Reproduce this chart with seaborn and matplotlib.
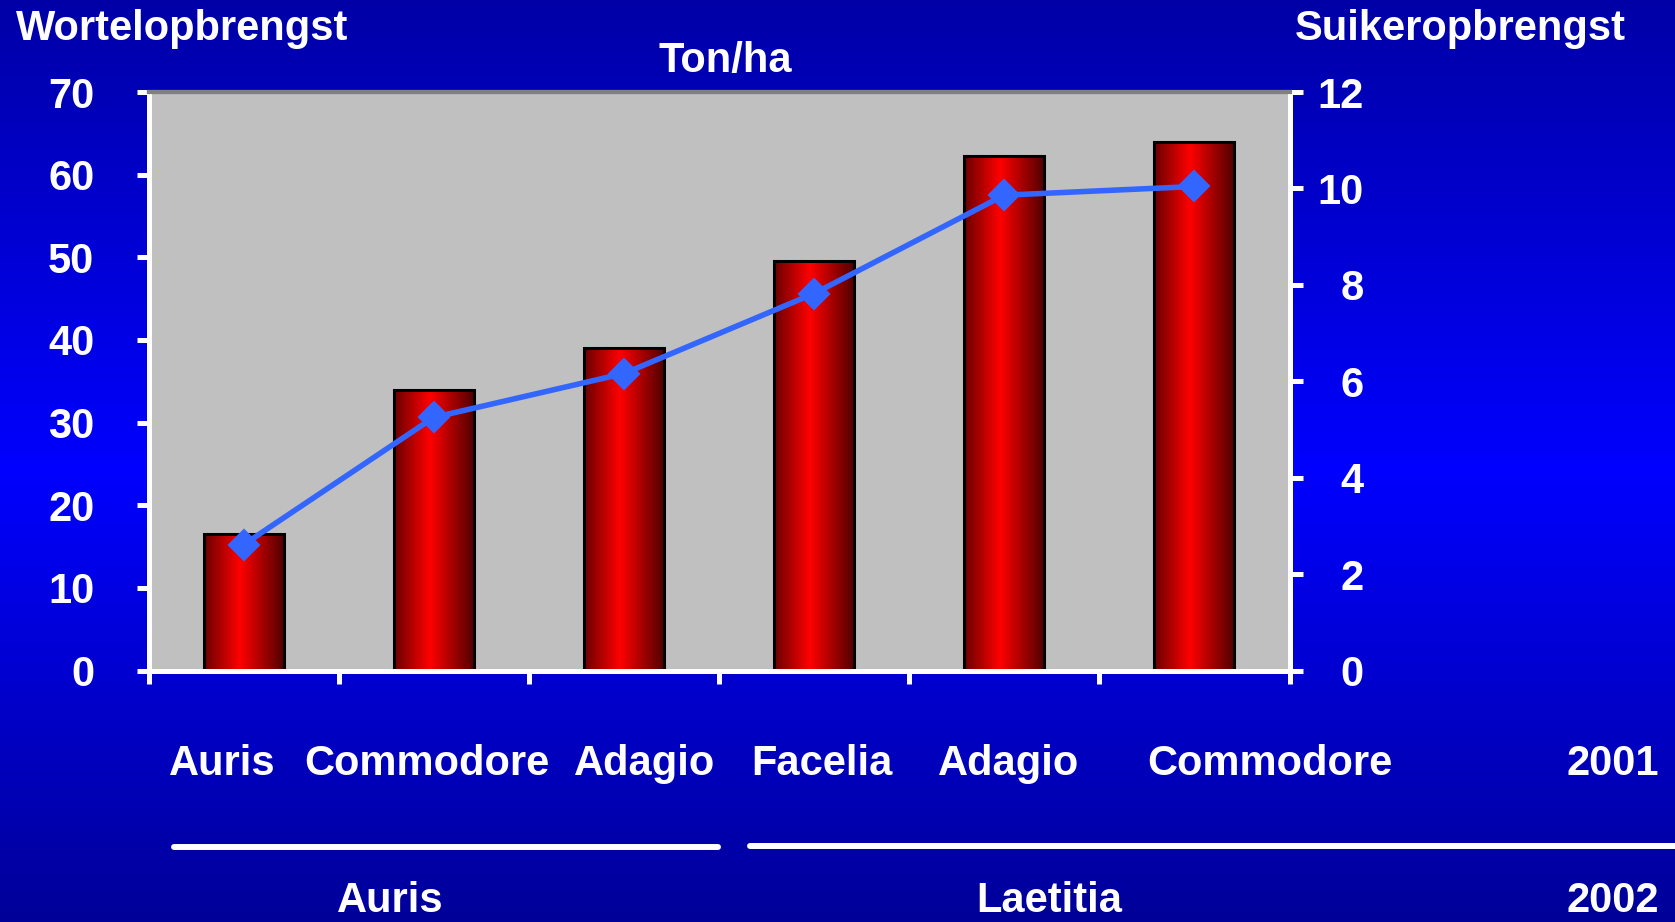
import numpy as np
import pandas as pd
import matplotlib
matplotlib.use("Agg")
import matplotlib.pyplot as plt
import seaborn as sns
from matplotlib.colors import LinearSegmentedColormap
from matplotlib.patches import Rectangle
from matplotlib.lines import Line2D

# data
rassen = ["Auris", "Commodore", "Adagio", "Facelia", "Adagio", "Commodore"]
wortelopbrengst = [16.5, 34.0, 39.0, 49.5, 62.2, 63.9]
suikeropbrengst = [2.61, 5.25, 6.16, 7.82, 9.86, 10.04]
links_ticks = [0, 10, 20, 30, 40, 50, 60, 70]
rechts_ticks = [0, 2, 4, 6, 8, 10, 12]
groepen = ["Auris", "Laetitia"]
jaren = ["2001", "2002"]

df = pd.DataFrame({"pos": range(len(rassen)), "ras": rassen,
                   "wortel": wortelopbrengst, "suiker": suikeropbrengst})

sns.set_style("white")
plt.rcParams["font.family"] = ["Liberation Sans", "DejaVu Sans"]
plt.rcParams["font.weight"] = "bold"

W, H = 1675, 922
fig = plt.figure(figsize=(W / 100, H / 100), dpi=100)

# blue slide background
bg = fig.add_axes([0, 0, 1, 1], zorder=-5)
bg_cmap = LinearSegmentedColormap.from_list(
    "bg", [(0, "#0000a6"), (0.51, "#0000ff"), (1, "#000098")])
bg.imshow(np.linspace(0, 1, 256)[:, None], aspect="auto", cmap=bg_cmap,
          extent=[0, 1, 0, 1])
bg.axis("off")

ax = fig.add_axes([148.5 / W, 1 - 670.5 / H, 1141 / W, 578.5 / H])
ax.set_facecolor("#c0c0c0")

sns.barplot(data=df, x="pos", y="wortel", width=0.42, color="red",
            edgecolor="black", linewidth=2, ax=ax, zorder=2)

bar_cmap = LinearSegmentedColormap.from_list(
    "bar", [(0, "#6a0000"), (0.45, "#ff0000"), (1, "#520000")])
grad = np.linspace(0, 1, 128)[None, :]
for p in ax.patches:
    x0, w, h = p.get_x(), p.get_width(), p.get_height()
    p.set_facecolor("none")
    ax.imshow(grad, extent=[x0, x0 + w, 0, h], aspect="auto", cmap=bar_cmap,
              zorder=2)
    ax.add_patch(Rectangle((x0, 0), w, h, fill=False, edgecolor="black",
                           linewidth=2.2, zorder=3))

ax.set_xlim(-0.5, len(rassen) - 0.5)
ax.set_ylim(0, 70)
ax.set_xticks([i - 0.5 for i in range(len(rassen) + 1)])
ax.set_xticklabels([])
ax.set_yticks(links_ticks)
ax.set_yticklabels([str(t) for t in links_ticks], fontsize=30,
                   fontweight="bold", color="white")
ax.set_xlabel("")
ax.set_ylabel("")
ax.tick_params(axis="x", direction="out", length=9, width=3.6,
               color="white", bottom=True)
ax.tick_params(axis="y", direction="out", length=9, width=3.6,
               color="white", pad=30, left=True)
ax.grid(False)

ax2 = ax.twinx()
sns.lineplot(data=df, x="pos", y="suiker", color="#3366ff", linewidth=4,
             marker="D", markersize=15, markeredgecolor="#3366ff",
             markeredgewidth=1.5, ax=ax2, zorder=4)
ax2.set_ylim(0, 12)
ax2.set_yticks(rechts_ticks)
ax2.set_yticklabels([str(t) for t in rechts_ticks], fontsize=30,
                    fontweight="bold", color="white", ha="right")
ax2.tick_params(axis="y", direction="out", length=9, width=3.6,
                color="white", pad=44.6, right=True)
ax2.set_xlabel("")
ax2.set_ylabel("")
ax2.grid(False)

for a in (ax, ax2):
    for s in ("left", "bottom", "right"):
        a.spines[s].set_color("white")
        a.spines[s].set_linewidth(3.6)
    a.spines["top"].set_color("#808080")
    a.spines["top"].set_linewidth(3)


def tekst(x, y, s, ha="center"):
    fig.text(x / W, 1 - y / H, s, ha=ha, va="baseline", color="white",
             fontsize=30, fontweight="bold")


tekst(16, 40, "Wortelopbrengst", ha="left")
tekst(725, 72, "Ton/ha")
tekst(1295, 40, "Suikeropbrengst", ha="left")

label_x = [222, 427, 645, 822, 1009, 1270]
for x, s in zip(label_x, rassen):
    tekst(x, 775, s)
tekst(1613, 775, jaren[0])

fig.add_artist(Line2D([174 / W, 718 / W], [1 - 847 / H, 1 - 847 / H],
                      color="white", linewidth=4.3))
fig.add_artist(Line2D([750 / W, 1], [1 - 846 / H, 1 - 846 / H],
                      color="white", linewidth=4.3))

tekst(390, 912, groepen[0])
tekst(1049, 912, groepen[1])
tekst(1613, 912, jaren[1])

fig.savefig("out.png", dpi=100)
